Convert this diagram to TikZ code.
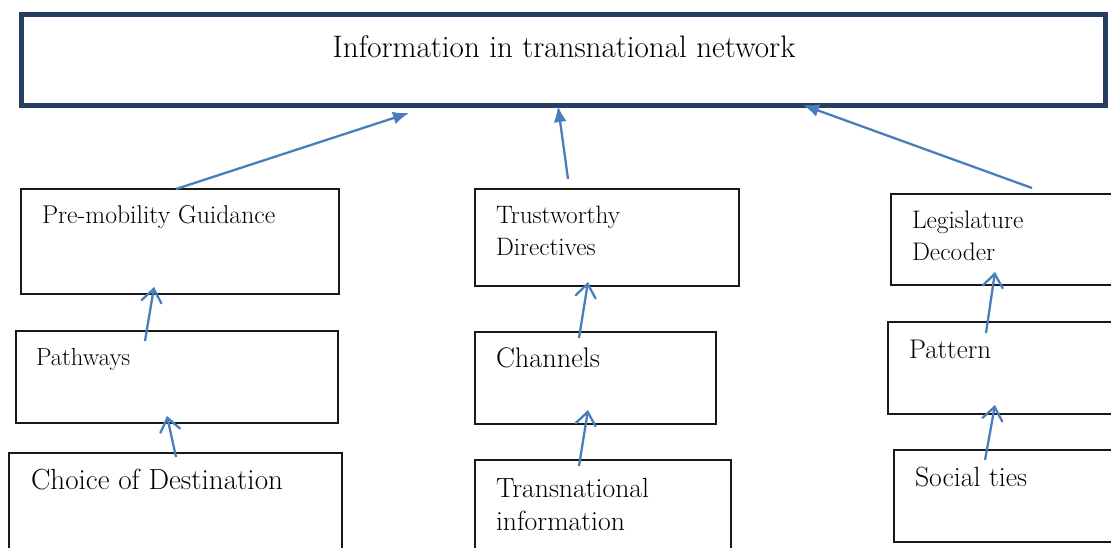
\documentclass[tikz,border=0pt]{standalone}
\usetikzlibrary{arrows.meta}
\definecolor{arrowblue}{HTML}{4A7EBB}
\definecolor{navy}{HTML}{263F61}
\begin{document}
\begin{tikzpicture}[x=1pt,y=-1pt,
  box/.style={draw=black!90,line width=1.3pt,rectangle,anchor=north west,inner sep=0pt,outer sep=0pt},
  txt/.style={anchor=base west,inner sep=0pt,outer sep=0pt,align=left},
  uparrow/.style={draw=arrowblue,line width=2.3pt,-{Latex[length=16pt,width=13pt]}},
  openarrow/.style={draw=arrowblue,line width=2.3pt,-{Straight Barb[length=13pt,width=20pt,line cap=round]}}]
\path[use as bounding box] (0,0) rectangle (1111,547);
\clip (0,0) rectangle (1111,547);
% top box
\node[box,draw=navy,line width=5pt,minimum width=1084pt,minimum height=91pt] (top) at (21.5,14.5) {};
\node[anchor=base,inner sep=0pt,font=\fontsize{31.1}{36}\selectfont] (toptxt) at (564,57) {Information in transnational network};
% left column
\node[box,minimum width=318pt,minimum height=105pt] (pm) at (21,189) {};
\node[txt,font=\fontsize{25.7}{32}\selectfont] (pmtxt) at (42,223) {Pre-mobility Guidance};
\node[box,minimum width=322pt,minimum height=92pt] (pw) at (16,331) {};
\node[txt,font=\fontsize{24.7}{32}\selectfont] (pwtxt) at (36,365) {Pathways};
\node[box,minimum width=333pt,minimum height=120pt] (cd) at (9,453) {};
\node[txt,font=\fontsize{29.1}{33}\selectfont] (cdtxt) at (31,489) {Choice of Destination};
% middle column
\node[box,minimum width=264pt,minimum height=97pt] (td) at (475,189) {};
\node[txt,font=\fontsize{25.2}{32}\selectfont] (tdtxt) at (496,255) {Trustworthy\\Directives};
\node[box,minimum width=241pt,minimum height=92pt] (ch) at (475,332) {};
\node[txt,font=\fontsize{28.3}{33}\selectfont] (chtxt) at (496,367) {Channels};
\node[box,minimum width=256pt,minimum height=120pt] (ti) at (475,460) {};
\node[txt,font=\fontsize{27.7}{33}\selectfont] (titxt) at (496,530) {Transnational\\information};
% right column
\node[box,minimum width=250pt,minimum height=91pt] (ld) at (891,194) {};
\node[txt,font=\fontsize{25.4}{32}\selectfont] (ldtxt) at (912,260) {Legislature\\Decoder};
\node[box,minimum width=250pt,minimum height=92pt] (pa) at (888,322) {};
\node[txt,font=\fontsize{27}{32}\selectfont] (patxt) at (909,358) {Pattern};
\node[box,minimum width=250pt,minimum height=92pt] (st) at (894,450) {};
\node[txt,font=\fontsize{27.8}{32}\selectfont] (sttxt) at (915,486) {Social ties};
% arrows to top box
\draw[uparrow] ([xshift=155pt]pm.north west) -- ([xshift=387.5pt,yshift=-7.5pt]top.south west);
\draw[uparrow] ([xshift=93pt,yshift=10pt]td.north west) -- ([xshift=536.5pt,yshift=-0.5pt]top.south west);
\draw[uparrow] ([xshift=141pt,yshift=6pt]ld.north west) -- ([xshift=781.5pt,yshift=0.5pt]top.south west);
% lower arrows
\draw[openarrow] ([xshift=129pt,yshift=-10pt]pw.north west) -- ([xshift=133pt,yshift=7pt]pm.south west);
\draw[openarrow] ([xshift=167pt,yshift=-4pt]cd.north west) -- ([xshift=151pt,yshift=7pt]pw.south west);
\draw[openarrow] ([xshift=104pt,yshift=-6pt]ch.north west) -- ([xshift=113pt,yshift=4pt]td.south west);
\draw[openarrow] ([xshift=104pt,yshift=-6pt]ti.north west) -- ([xshift=113pt,yshift=14pt]ch.south west);
\draw[openarrow] ([xshift=98pt,yshift=-11pt]pa.north west) -- ([xshift=104pt,yshift=13pt]ld.south west);
\draw[openarrow] ([xshift=91pt,yshift=-10pt]st.north west) -- ([xshift=107pt,yshift=9pt]pa.south west);
\end{tikzpicture}
\end{document}
